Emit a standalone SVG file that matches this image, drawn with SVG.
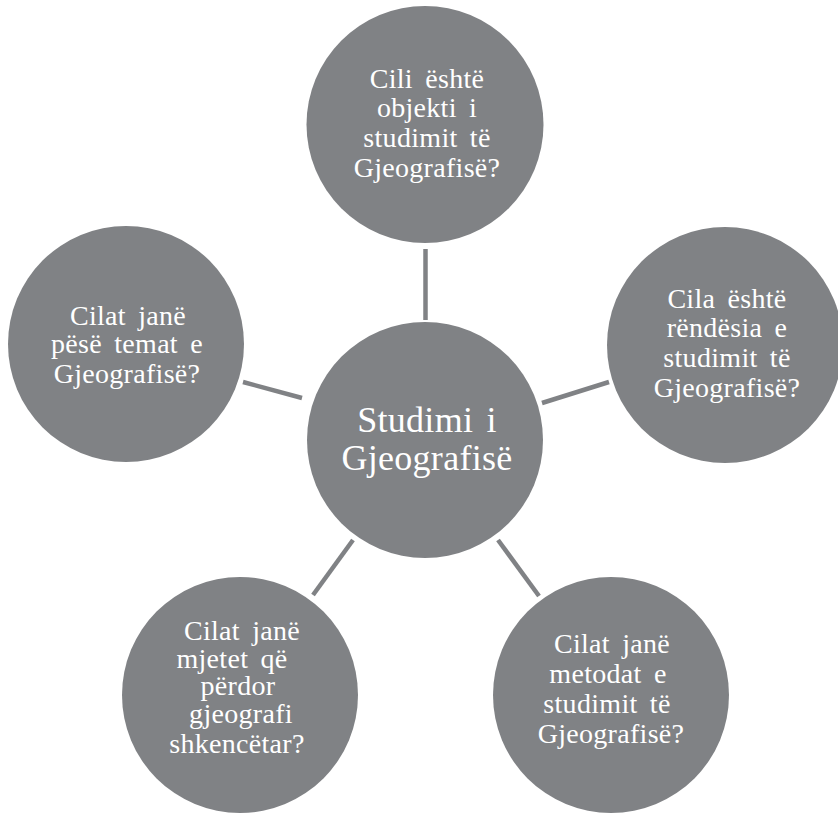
<svg xmlns="http://www.w3.org/2000/svg" width="838" height="814" viewBox="0 0 838 814">
<style>
.node circle{fill:#808285;}
.node text{fill:#ffffff;font-family:"Liberation Serif","Times New Roman",serif;font-size:28px;text-anchor:middle;word-spacing:5px;letter-spacing:0.3px;}
#center text{font-size:36px;word-spacing:4px;letter-spacing:0.3px;}
.conn line{stroke:#808285;stroke-width:4.5;}
</style>
<rect width="838" height="814" fill="#ffffff"/>
<g class="conn">
<line x1="425.5" y1="249" x2="425.5" y2="320"/>
<line x1="542" y1="403" x2="609" y2="382"/>
<line x1="243" y1="382" x2="302" y2="398"/>
<line x1="353" y1="540" x2="313" y2="595"/>
<line x1="498" y1="540" x2="539" y2="596"/>
</g>
<g id="center" class="node">
<circle cx="425" cy="440" r="118"/>
<text x="427" y="432">Studimi i</text>
<text x="427" y="470">Gjeografisë</text>
</g>
<g id="top" class="node">
<circle cx="425" cy="124.5" r="118.5"/>
<text x="427" y="88">Cili është</text>
<text x="427" y="117">objekti i</text>
<text x="427" y="147">studimit të</text>
<text x="427" y="177">Gjeografisë?</text>
</g>
<g id="right" class="node">
<circle cx="725" cy="345" r="118"/>
<text x="727" y="308">Cila është</text>
<text x="727" y="337">rëndësia e</text>
<text x="727" y="367">studimit të</text>
<text x="727" y="397">Gjeografisë?</text>
</g>
<g id="left" class="node">
<circle cx="126" cy="344" r="118"/>
<text x="128" y="325">Cilat janë</text>
<text x="127" y="353">pësë temat e</text>
<text x="127" y="383">Gjeografisë?</text>
</g>
<g id="bottomleft" class="node">
<circle cx="240" cy="695" r="118"/>
<text x="242" y="640">Cilat janë</text>
<text x="232" y="668">mjetet që</text>
<text x="238" y="695">përdor</text>
<text x="241" y="723">gjeografi</text>
<text x="237" y="753">shkencëtar?</text>
</g>
<g id="bottomright" class="node">
<circle cx="611" cy="695" r="118"/>
<text x="612" y="653">Cilat janë</text>
<text x="608" y="683">metodat e</text>
<text x="607" y="713">studimit të</text>
<text x="611" y="743">Gjeografisë?</text>
</g>
</svg>
